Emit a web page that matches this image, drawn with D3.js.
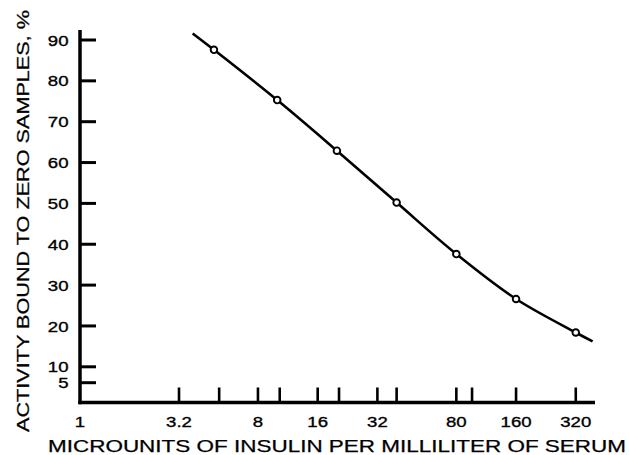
<!DOCTYPE html>
<html>
<head>
<meta charset="utf-8">
<script src="https://cdn.jsdelivr.net/npm/d3@7"></script>
<style>
  html, body { margin: 0; padding: 0; background: #fff; }
  svg { display: block; }
  text { font-family: "Liberation Sans", Arial, Helvetica, sans-serif; fill: #000; }
</style>
</head>
<body>
<svg id="chart" width="629" height="455"></svg>
<script>
// ---- data ----
const concentrations = [4.8, 10, 20, 40, 80, 160, 320];          // µU/ml
const percentBound   = [87.6, 75.3, 62.9, 50.2, 37.6, 26.6, 18.4]; // %
const curveX = [3.75, 4.8, 10, 20, 40, 80, 160, 320, 389];
const curveY = [91.6, 87.6, 75.3, 62.9, 50.2, 37.6, 26.6, 18.4, 16.2];

const xLabelTicks = [1, 3.2, 8, 16, 32, 80, 160, 320];
const xTickMarks  = [3.2, 5.1, 8, 10.3, 16, 20.5, 32, 40, 80, 96, 160, 320];
const yTicks      = [90, 80, 70, 60, 50, 40, 30, 20, 10, 5];

const xTitle = "MICROUNITS OF INSULIN PER MILLILITER OF SERUM";
const yTitle = "ACTIVITY BOUND TO ZERO SAMPLES, %";

// ---- layout ----
const axisX = 80, axisY = 402.5, axisTop = 30, axisRight = 595;

const svg = d3.select("#chart");

const x = d3.scaleLog().domain([1, 400]).range([78.8, 595]);
// broken lower end of the y axis (10 and 5 are squeezed in the original)
const y = d3.scaleLinear().domain([5, 10, 90]).range([382.7, 366.8, 40]);

// axes lines
svg.append("line").attr("x1", axisX).attr("x2", axisX).attr("y1", axisTop).attr("y2", axisY + 1.7)
  .attr("stroke", "#000").attr("stroke-width", 3.5);
svg.append("line").attr("x1", axisX - 1.7).attr("x2", axisRight).attr("y1", axisY).attr("y2", axisY)
  .attr("stroke", "#000").attr("stroke-width", 3.5);

// y ticks
svg.append("g").selectAll("line").data(yTicks).join("line")
  .attr("x1", axisX).attr("x2", axisX + 16)
  .attr("y1", d => y(d)).attr("y2", d => y(d))
  .attr("stroke", "#000").attr("stroke-width", 3);
svg.append("g").selectAll("text").data(yTicks).join("text")
  .attr("transform", d => `translate(68.5,${y(d)}) scale(1.2,1)`)
  .attr("dy", "0.36em").attr("stroke", "#000").attr("stroke-width", 0.35)
  .attr("text-anchor", "end").attr("font-size", 15.5).text(d => d);

// x ticks
svg.append("g").selectAll("line").data(xTickMarks).join("line")
  .attr("x1", d => x(d)).attr("x2", d => x(d))
  .attr("y1", axisY).attr("y2", axisY - 15)
  .attr("stroke", "#000").attr("stroke-width", 2.6);
svg.append("g").selectAll("text").data(xLabelTicks).join("text")
  .attr("transform", d => `translate(${d === 1 ? axisX : x(d)},426.5) scale(1.2,1)`)
  .attr("stroke", "#000").attr("stroke-width", 0.35)
  .attr("text-anchor", "middle").attr("font-size", 15.5).text(d => d);

// curve
const pts = curveX.map((v, i) => [x(v), y(curveY[i])]);
svg.append("path")
  .attr("d", d3.line().curve(d3.curveCatmullRom.alpha(0.5))(pts))
  .attr("fill", "none").attr("stroke", "#000").attr("stroke-width", 2.6);

// points
svg.append("g").selectAll("circle").data(concentrations).join("circle")
  .attr("cx", d => x(d)).attr("cy", (d, i) => y(percentBound[i]))
  .attr("r", 3.3).attr("fill", "#fff").attr("stroke", "#000").attr("stroke-width", 1.9);

// titles
svg.append("text").attr("x", 48).attr("y", 452).attr("font-size", 17)
  .attr("stroke", "#000").attr("stroke-width", 0.25)
  .attr("textLength", 578).attr("lengthAdjust", "spacingAndGlyphs").text(xTitle);
svg.append("text").attr("transform", "translate(28.5,432) rotate(-90)")
  .attr("x", 0).attr("y", 0).attr("font-size", 17)
  .attr("stroke", "#000").attr("stroke-width", 0.25)
  .attr("textLength", 422).attr("lengthAdjust", "spacingAndGlyphs").text(yTitle);
</script>
</body>
</html>
